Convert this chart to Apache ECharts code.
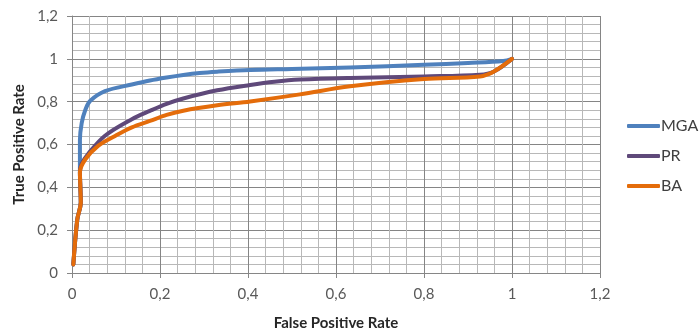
<!DOCTYPE html>
<html>
<head>
<meta charset="utf-8">
<script src="https://cdn.jsdelivr.net/npm/echarts@6/dist/echarts.min.js"></script>
<style>
  html, body { margin: 0; padding: 0; background: #ffffff; }
  #chart { width: 700px; height: 336px; }
</style>
</head>
<body>
<div id="chart"></div>
<script>
// ROC curves: false positive rate (x) against true positive rate (y)
const seriesNames = ['MGA', 'PR', 'BA'];
const seriesColors = ['#4f81bd', '#5f497a', '#e46c0a'];

const mgaFpr = [0.003, 0.012, 0.020, 0.019, 0.018, 0.018, 0.022, 0.030, 0.041, 0.075, 0.136, 0.177, 0.215, 0.253, 0.290, 0.330, 0.405, 0.500, 0.632, 0.800, 0.900, 0.980, 1.000];
const mgaTpr = [0.040, 0.250, 0.330, 0.400, 0.460, 0.620, 0.700, 0.760, 0.803, 0.849, 0.880, 0.899, 0.913, 0.925, 0.934, 0.940, 0.948, 0.953, 0.960, 0.972, 0.981, 0.990, 1.000];

const prFpr = [0.003, 0.012, 0.020, 0.019, 0.018, 0.022, 0.037, 0.075, 0.136, 0.177, 0.215, 0.253, 0.330, 0.405, 0.460, 0.518, 0.632, 0.800, 0.927, 0.958, 1.000];
const prTpr = [0.040, 0.250, 0.330, 0.400, 0.470, 0.510, 0.557, 0.641, 0.718, 0.757, 0.790, 0.815, 0.853, 0.878, 0.893, 0.903, 0.911, 0.918, 0.926, 0.940, 1.000];

const baFpr = [0.003, 0.012, 0.020, 0.019, 0.018, 0.030, 0.060, 0.098, 0.136, 0.177, 0.215, 0.253, 0.330, 0.405, 0.518, 0.632, 0.800, 0.927, 0.958, 1.000];
const baTpr = [0.040, 0.250, 0.330, 0.400, 0.470, 0.530, 0.595, 0.640, 0.680, 0.710, 0.738, 0.758, 0.783, 0.801, 0.834, 0.872, 0.906, 0.918, 0.940, 1.000];

const xTitle = 'False Positive Rate';
const yTitle = 'True Positive Rate';

const fprSets = [mgaFpr, prFpr, baFpr];
const tprSets = [mgaTpr, prTpr, baTpr];

const FONT = 'Lato, "Open Sans", sans-serif';
const fmt = v => String(Number(v.toFixed(2))).replace('.', ',');

const axisCommon = {
  type: 'value',
  min: 0,
  max: 1.2,
  interval: 0.2,
  axisLine: { show: true, lineStyle: { color: '#868686', width: 1 } },
  axisTick: { show: true, length: 5, lineStyle: { color: '#868686' } },
  axisLabel: { formatter: fmt, color: '#595959', fontSize: 15, fontFamily: FONT, margin: 14 },
  splitLine: { show: true, lineStyle: { color: '#858585', width: 1 } },
  minorTick: { show: false, splitNumber: 5 },
  minorSplitLine: { show: true, lineStyle: { color: '#b8b8b8', width: 1 } },
  nameLocation: 'middle',
  nameTextStyle: { color: '#262626', fontSize: 15, fontWeight: 'bold', fontFamily: FONT }
};

const chart = echarts.init(document.getElementById('chart'), null, { renderer: 'canvas' });
chart.setOption({
  animation: false,
  backgroundColor: '#ffffff',
  grid: { left: 72, right: 100, top: 16, bottom: 61, containLabel: false },
  xAxis: Object.assign({}, axisCommon, { name: xTitle, nameGap: 43 }),
  yAxis: Object.assign({}, axisCommon, { name: yTitle, nameGap: 45, nameRotate: 90 }),
  legend: {
    orient: 'vertical',
    left: 627,
    top: 118,
    padding: 0,
    icon: 'roundRect',
    itemWidth: 33,
    itemHeight: 4,
    itemGap: 14,
    textStyle: { color: '#404040', fontSize: 16, lineHeight: 16, fontFamily: FONT, padding: [0, 0, 0, -4] },
    data: seriesNames
  },
  series: seriesNames.map((name, i) => ({
    name: name,
    type: 'line',
    smooth: 0.35,
    symbol: 'none',
    color: seriesColors[i],
    lineStyle: { width: 4, color: seriesColors[i], cap: 'round', join: 'round' },
    z: 2 + i,
    data: fprSets[i].map((x, k) => [x, tprSets[i][k]])
  }))
});
</script>
</body>
</html>
